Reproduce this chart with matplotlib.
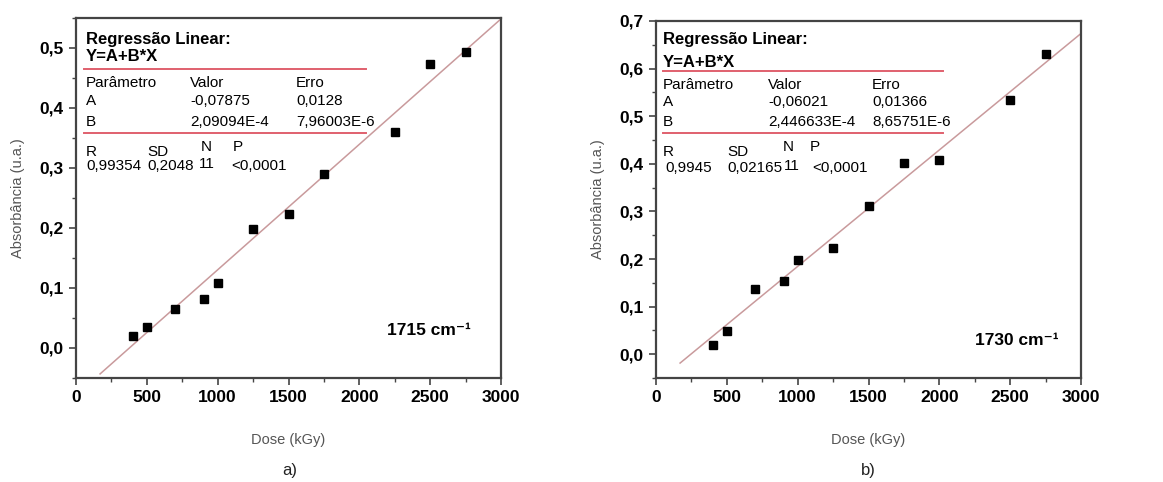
#!/usr/bin/env python3
"""Absorbance vs. dose calibration curves with linear-fit summary boxes."""

import matplotlib

matplotlib.use("Agg")
import matplotlib.pyplot as plt
import numpy as np
from matplotlib.lines import Line2D
from matplotlib.ticker import MultipleLocator

plt.rcParams["font.family"] = ["Liberation Sans", "DejaVu Sans"]

# 1715 cm-1 band
dose_a = [400, 500, 700, 900, 1000, 1250, 1500, 1750, 2250, 2500, 2750]
abs_a = [0.020, 0.035, 0.065, 0.082, 0.109, 0.198, 0.224, 0.290, 0.360, 0.474, 0.493]
fit_a = (-0.07875, 2.09094e-4)
stats_a = {
    "A": ("-0,07875", "0,0128"),
    "B": ("2,09094E-4", "7,96003E-6"),
    "R": "0,99354", "SD": "0,2048", "N": "11", "P": "<0,0001",
}

# 1730 cm-1 band
dose_b = [400, 500, 700, 900, 1000, 1250, 1500, 1750, 2000, 2500, 2750]
abs_b = [0.020, 0.049, 0.138, 0.153, 0.198, 0.224, 0.311, 0.402, 0.408, 0.534, 0.630]
fit_b = (-0.06021, 2.446633e-4)
stats_b = {
    "A": ("-0,06021", "0,01366"),
    "B": ("2,446633E-4", "8,65751E-6"),
    "R": "0,9945", "SD": "0,02165", "N": "11", "P": "<0,0001",
}

FIT_COLOR = "#c99a9c"
RULE_COLOR = "#e0606e"
LABEL_COLOR = "#555555"


def comma(value, pos=None):
    return f"{value:.1f}".replace(".", ",")


def draw_panel(ax, dose, absorb, fit, stats, ylim, band, band_pos, rows):
    x_fit = np.array([170, 3000])
    ax.plot(x_fit, fit[0] + fit[1] * x_fit, color=FIT_COLOR, lw=1.1, zorder=2)
    ax.plot(dose, absorb, ls="none", marker="s", ms=5.2, color="black", zorder=3)

    ax.set_xlim(0, 3000)
    ax.set_ylim(*ylim)
    ax.xaxis.set_major_locator(MultipleLocator(500))
    ax.xaxis.set_minor_locator(MultipleLocator(250))
    ax.yaxis.set_major_locator(MultipleLocator(0.1))
    ax.yaxis.set_minor_locator(MultipleLocator(0.05))
    ax.yaxis.set_major_formatter(comma)
    ax.tick_params(which="both", direction="out", top=False, right=False, color="#444444")
    ax.tick_params(which="major", length=5, width=1.2, labelsize=12.5, pad=4)
    ax.tick_params(which="minor", length=3, width=1.0)
    for label in ax.get_xticklabels() + ax.get_yticklabels():
        label.set_fontweight("bold")
    for spine in ax.spines.values():
        spine.set_color("#444444")
        spine.set_linewidth(1.6)

    ax.set_xlabel("Dose (kGy)", color=LABEL_COLOR, fontsize=10.5, labelpad=20)
    ax.set_ylabel("Absorbância (u.a.)", color=LABEL_COLOR, fontsize=10.5, labelpad=10)

    # regression summary box
    tr = ax.transAxes
    x0, xv, xe = rows["cols"]
    xsd, xn, xp = rows["stat_cols"]
    ax.text(x0, rows["title"], "Regressão Linear:", transform=tr, fontsize=12,
            fontweight="bold", va="center")
    ax.text(x0, rows["eq"], "Y=A+B*X", transform=tr, fontsize=12,
            fontweight="bold", va="center")
    for y in rows["rules"]:
        ax.add_line(Line2D([rows["rule_x"][0], rows["rule_x"][1]], [y, y], transform=tr,
                           color=RULE_COLOR, lw=1.4))
    small = dict(transform=tr, fontsize=11, va="center")
    ax.text(x0, rows["head"], "Parâmetro", **small)
    ax.text(xv, rows["head"], "Valor", **small)
    ax.text(xe, rows["head"], "Erro", **small)
    for key, y in (("A", rows["a"]), ("B", rows["b"])):
        ax.text(x0, y, key, **small)
        ax.text(xv, y, stats[key][0], **small)
        ax.text(xe, y, stats[key][1], **small)
    ax.text(x0, rows["r"], "R", **small)
    ax.text(xsd, rows["r"], "SD", **small)
    ax.text(xn, rows["np"], "N", **small)
    ax.text(xp, rows["np"], "P", **small)
    vx = rows["val_cols"]
    ax.text(vx[0], rows["vals"], stats["R"], **small)
    ax.text(vx[1], rows["vals"], stats["SD"], **small)
    ax.text(vx[2], rows["vals"] + 0.006, stats["N"], **small)
    ax.text(vx[3], rows["vals"], stats["P"], **small)

    ax.text(band_pos[0], band_pos[1], band, transform=tr, fontsize=12.5,
            fontweight="bold", va="center")


fig = plt.figure(figsize=(11.63, 4.82), dpi=100, facecolor="white")
ax_a = fig.add_axes([76 / 1163, 104 / 482, 425 / 1163, 360 / 482])
ax_b = fig.add_axes([656 / 1163, 104 / 482, 425 / 1163, 357 / 482])

draw_panel(
    ax_a, dose_a, abs_a, fit_a, stats_a, (-0.05, 0.55), "1715 cm⁻¹", (0.732, 0.131),
    {
        "cols": (0.0235, 0.268, 0.518), "stat_cols": (0.169, 0.294, 0.369),
        "val_cols": (0.0235, 0.169, 0.288, 0.365),
        "title": 0.939, "eq": 0.894, "rules": (0.858, 0.681), "rule_x": (0.019, 0.682),
        "head": 0.819, "a": 0.769, "b": 0.711, "r": 0.628, "np": 0.642, "vals": 0.589,
    },
)
draw_panel(
    ax_b, dose_b, abs_b, fit_b, stats_b, (-0.05, 0.70), "1730 cm⁻¹", (0.751, 0.106),
    {
        "cols": (0.0165, 0.264, 0.508), "stat_cols": (0.169, 0.299, 0.362),
        "val_cols": (0.021, 0.167, 0.301, 0.367),
        "title": 0.947, "eq": 0.885, "rules": (0.860, 0.686), "rule_x": (0.0165, 0.675),
        "head": 0.821, "a": 0.773, "b": 0.717, "r": 0.633, "np": 0.647, "vals": 0.588,
    },
)

fig.text(290 / 1163, 1 - 470 / 482, "a)", fontsize=12, ha="center", va="center", color="#222222")
fig.text(868 / 1163, 1 - 470 / 482, "b)", fontsize=12, ha="center", va="center", color="#222222")

fig.savefig("out.png", dpi=100, facecolor=fig.get_facecolor())
